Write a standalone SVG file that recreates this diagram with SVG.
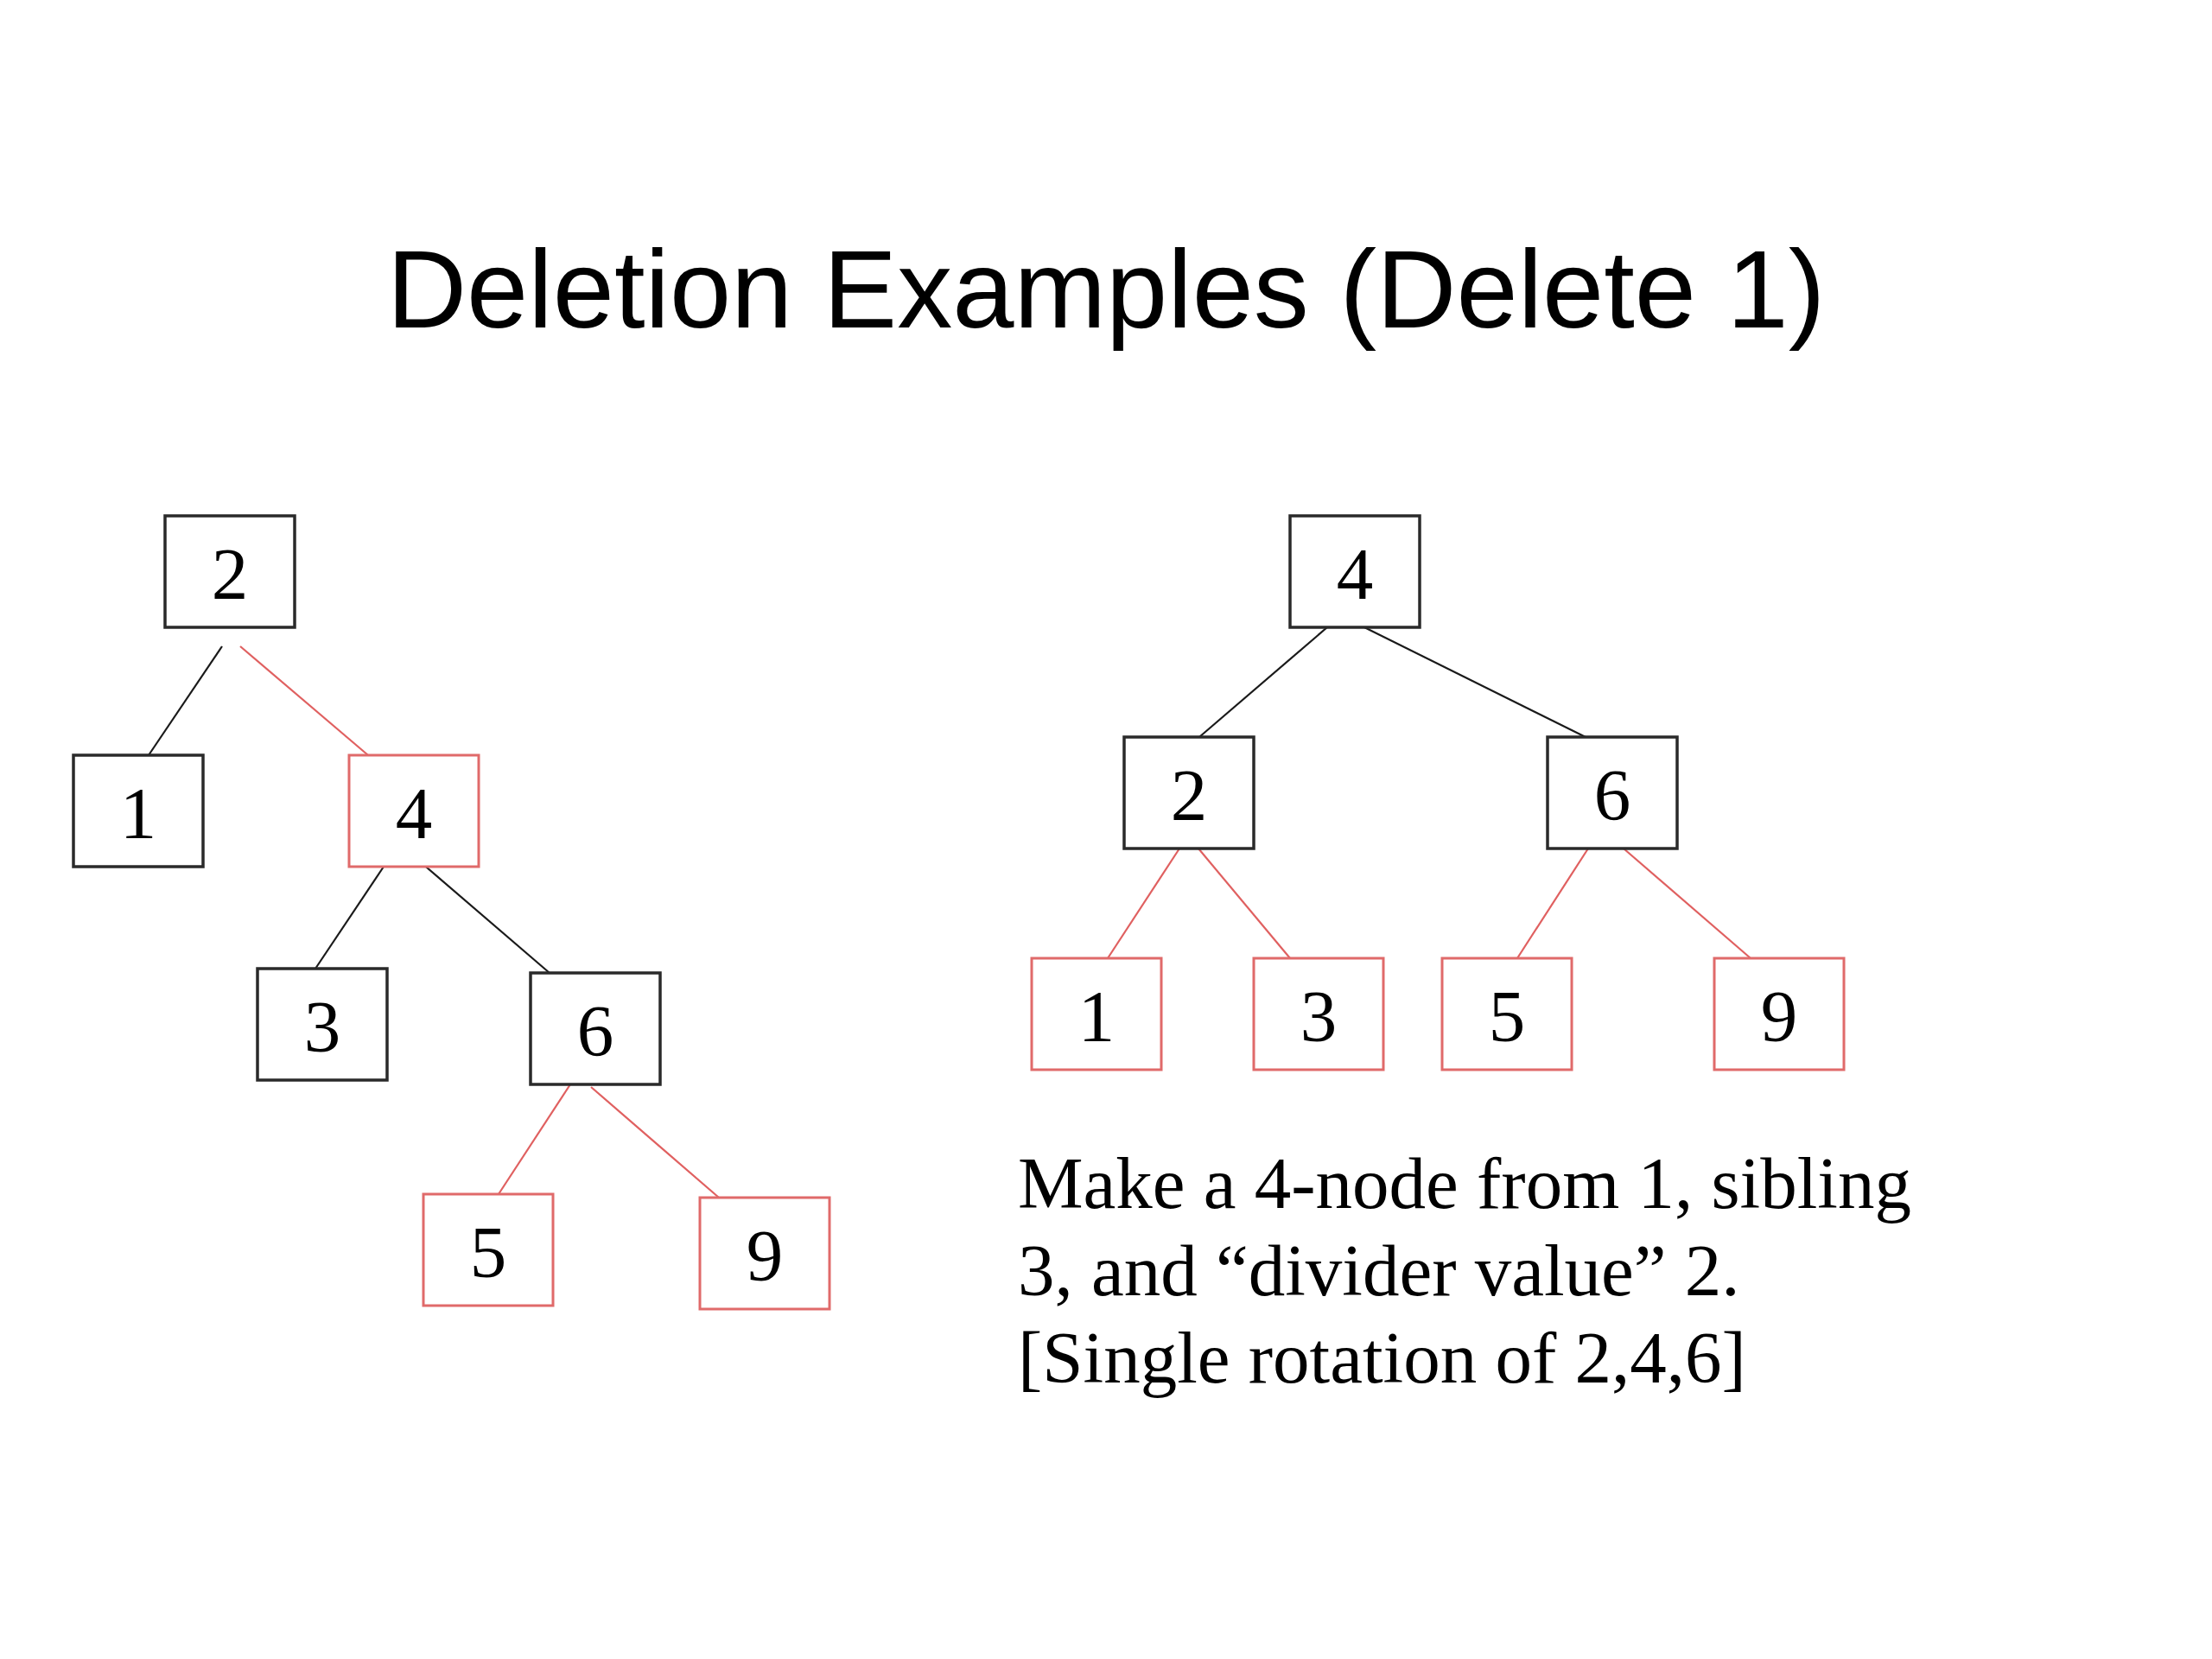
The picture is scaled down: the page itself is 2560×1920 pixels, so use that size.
<svg xmlns="http://www.w3.org/2000/svg" width="2560" height="1920" viewBox="0 0 2560 1920">
<style>
.bk{fill:#ffffff;stroke:#2a2a2a;stroke-width:3.5}
.rd{fill:#ffffff;stroke:#e06a6a;stroke-width:3}
.d{font-family:"Liberation Serif","Times New Roman",serif;font-size:85px;fill:#000;text-anchor:middle}
.lb{stroke:#1a1a1a;stroke-width:2.2;fill:none}
.lr{stroke:#e06060;stroke-width:2.2;fill:none}
.title{font-family:"Liberation Sans",Arial,sans-serif;font-size:128px;fill:#000;text-anchor:middle}
.body{font-family:"Liberation Serif","Times New Roman",serif;font-size:85px;fill:#000}
</style>
<rect width="2560" height="1920" fill="#ffffff"/>
<text class="title" x="1280" y="379">Deletion Examples (Delete 1)</text>
<g id="connectors">
<line class="lb" x1="257" y1="748" x2="172" y2="874"/>
<line class="lr" x1="278" y1="748" x2="426" y2="874"/>
<line class="lb" x1="444" y1="1003" x2="359" y2="1130"/>
<line class="lb" x1="487" y1="998" x2="636" y2="1126"/>
<line class="lr" x1="660" y1="1255" x2="577" y2="1382"/>
<line class="lr" x1="684" y1="1258" x2="832" y2="1386"/>
<line class="lb" x1="1536" y1="726" x2="1388" y2="853"/>
<line class="lb" x1="1579" y1="726" x2="1835" y2="853"/>
<line class="lr" x1="1365" y1="982" x2="1282" y2="1109"/>
<line class="lr" x1="1387" y1="982" x2="1493" y2="1109"/>
<line class="lr" x1="1838" y1="982" x2="1756" y2="1109"/>
<line class="lr" x1="1879" y1="982" x2="2026" y2="1109"/>
</g>
<g id="L2"><rect class="bk" x="191" y="597" width="150" height="129"/><text class="d" x="266" y="693">2</text></g>
<g id="L1"><rect class="bk" x="85" y="874" width="150" height="129"/><text class="d" x="160" y="970">1</text></g>
<g id="L4"><rect class="rd" x="404" y="874" width="150" height="129"/><text class="d" x="479" y="970">4</text></g>
<g id="L3"><rect class="bk" x="298" y="1121" width="150" height="129"/><text class="d" x="373" y="1217">3</text></g>
<g id="L6"><rect class="bk" x="614" y="1126" width="150" height="129"/><text class="d" x="689" y="1222">6</text></g>
<g id="L5"><rect class="rd" x="490" y="1382" width="150" height="129"/><text class="d" x="565" y="1478">5</text></g>
<g id="L9"><rect class="rd" x="810" y="1386" width="150" height="129"/><text class="d" x="885" y="1482">9</text></g>
<g id="R4"><rect class="bk" x="1493" y="597" width="150" height="129"/><text class="d" x="1568" y="693">4</text></g>
<g id="R2"><rect class="bk" x="1301" y="853" width="150" height="129"/><text class="d" x="1376" y="949">2</text></g>
<g id="R6"><rect class="bk" x="1791" y="853" width="150" height="129"/><text class="d" x="1866" y="949">6</text></g>
<g id="R1"><rect class="rd" x="1194" y="1109" width="150" height="129"/><text class="d" x="1269" y="1205">1</text></g>
<g id="R3"><rect class="rd" x="1451" y="1109" width="150" height="129"/><text class="d" x="1526" y="1205">3</text></g>
<g id="R5"><rect class="rd" x="1669" y="1109" width="150" height="129"/><text class="d" x="1744" y="1205">5</text></g>
<g id="R9"><rect class="rd" x="1984" y="1109" width="150" height="129"/><text class="d" x="2059" y="1205">9</text></g>
<g id="note">
<text class="body" x="1178" y="1398">Make a 4-node from 1, sibling</text>
<text class="body" x="1178" y="1499">3, and “divider value” 2.</text>
<text class="body" x="1178" y="1600">[Single rotation of 2,4,6]</text>
</g>
</svg>
